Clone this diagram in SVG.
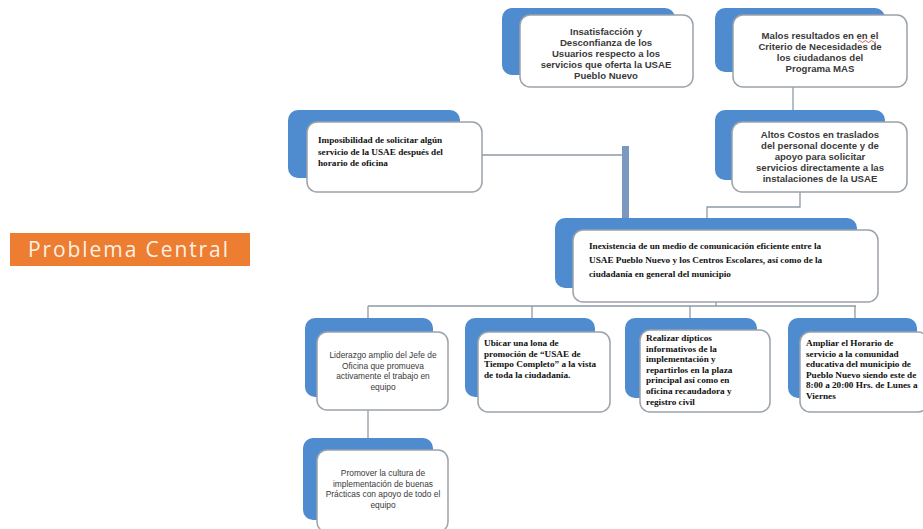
<svg xmlns="http://www.w3.org/2000/svg" width="923" height="529" viewBox="0 0 923 529">
<style>
.back{fill:#4f8bcf;}
.card{fill:#ffffff;stroke:#9aa2aa;stroke-width:1.5;}
.sb{font-family:"Liberation Sans",Arial,sans-serif;font-weight:bold;font-size:9.6px;fill:#3a3a3a;text-anchor:middle;}
.sr{font-family:"Liberation Sans",Arial,sans-serif;font-size:8.4px;fill:#3a3a3a;text-anchor:middle;}
.tb{font-family:"Liberation Serif","Times New Roman",serif;font-weight:bold;font-size:9.2px;fill:#111;}
.ln{fill:none;stroke:#8e9aa6;stroke-width:1.3;}
</style>
<rect width="923" height="529" fill="#ffffff"/>
<g id="connectors">
<path class="ln" d="M793 87 V122"/>
<path class="ln" d="M800 192 V207 H707 V218"/>
<path class="ln" d="M482 155 H623"/>
<rect x="622" y="146" width="7" height="72" fill="#7b98c0"/>
<path class="ln" d="M716 302 V306 M368 306 H856 M368 306 V318 M532 306 V318 M690 306 V318 M855 306 V318"/>
<path class="ln" d="M368 410 V438"/>
</g>
<g id="problema-central">
<rect x="10" y="233" width="240" height="33" fill="#ed7d31"/>
<text x="28" y="257" font-family="'Open Sans','Liberation Sans',sans-serif" font-size="21" fill="#fdf1e2" textLength="200" lengthAdjust="spacing">Problema Central</text>
</g>
<g id="n1">
<rect class="back" x="502" y="8" width="173" height="67" rx="10"/>
<rect class="card" x="520" y="15" width="173" height="72" rx="10"/>
<text class="sb" y="35"><tspan x="606" dy="0">Insatisfacción y</tspan><tspan x="606" dy="11">Desconfianza de los</tspan><tspan x="606" dy="11">Usuarios respecto a los</tspan><tspan x="606" dy="11">servicios que oferta la USAE</tspan><tspan x="606" dy="11">Pueblo Nuevo</tspan></text>
</g>
<g id="n2">
<rect class="back" x="715" y="8" width="170" height="64" rx="10"/>
<rect class="card" x="733" y="15" width="174" height="72" rx="10"/>
<text class="sb" y="39"><tspan x="820" dy="0">Malos resultados en en el</tspan><tspan x="820" dy="11">Criterio de Necesidades de</tspan><tspan x="820" dy="11">los ciudadanos del</tspan><tspan x="820" dy="11">Programa MAS</tspan></text>
<path d="M858 41.5 q1.5 -2 3 0 t3 0 t3 0 t3 0 t3 0 t3 0" fill="none" stroke="#d33" stroke-width="0.8"/>
</g>
<g id="n3">
<rect class="back" x="288" y="110" width="172" height="68" rx="10"/>
<rect class="card" x="307" y="122" width="175" height="70" rx="10"/>
<text class="tb" font-size="9.6" y="143"><tspan x="318" dy="0">Imposibilidad de solicitar algún</tspan><tspan x="318" dy="11.5">servicio de la USAE después del</tspan><tspan x="318" dy="11.5">horario de oficina</tspan></text>
</g>
<g id="n4">
<rect class="back" x="715" y="110" width="170" height="70" rx="10"/>
<rect class="card" x="732" y="122" width="175" height="70" rx="10"/>
<text class="sb" y="138"><tspan x="820" dy="0">Altos Costos en traslados</tspan><tspan x="820" dy="11">del personal docente y de</tspan><tspan x="820" dy="11">apoyo para solicitar</tspan><tspan x="820" dy="11">servicios directamente a las</tspan><tspan x="820" dy="11">instalaciones de la USAE</tspan></text>
</g>
<g id="n5">
<rect class="back" x="555" y="218" width="302" height="70" rx="10"/>
<rect class="card" x="573" y="230" width="305" height="72" rx="10"/>
<text class="tb" font-size="9.6" y="249"><tspan x="589" dy="0">Inexistencia de un medio de comunicación eficiente entre la</tspan><tspan x="589" dy="14">USAE Pueblo Nuevo y los Centros Escolares, así como de la</tspan><tspan x="589" dy="14">ciudadanía en general del municipio</tspan></text>
</g>
<g id="n6">
<rect class="back" x="305" y="318" width="128" height="79" rx="10"/>
<rect class="card" x="317" y="332" width="131" height="78" rx="10"/>
<text class="sr" y="358"><tspan x="383" dy="0">Liderazgo amplio del Jefe de</tspan><tspan x="383" dy="10.5">Oficina que promueva</tspan><tspan x="383" dy="10.5">activamente el trabajo en</tspan><tspan x="383" dy="10.5">equipo</tspan></text>
</g>
<g id="n7">
<rect class="back" x="465" y="318" width="130" height="79" rx="10"/>
<rect class="card" x="478" y="332" width="132" height="80" rx="10"/>
<text class="tb" y="346"><tspan x="484" dy="0">Ubicar una lona de</tspan><tspan x="484" dy="10.6">promoción de  “USAE de</tspan><tspan x="484" dy="10.6">Tiempo Completo” a la vista</tspan><tspan x="484" dy="10.6">de toda la ciudadanía.</tspan></text>
</g>
<g id="n8">
<rect class="back" x="625" y="318" width="132" height="80" rx="10"/>
<rect class="card" x="640" y="330" width="130" height="82" rx="10"/>
<text class="tb" y="341"><tspan x="646" dy="0">Realizar dípticos</tspan><tspan x="646" dy="10.6">informativos de la</tspan><tspan x="646" dy="10.6">implementación y</tspan><tspan x="646" dy="10.6">repartirlos en la plaza</tspan><tspan x="646" dy="10.6">principal así como en</tspan><tspan x="646" dy="10.6">oficina recaudadora y</tspan><tspan x="646" dy="10.6">registro civil</tspan></text>
</g>
<g id="n9">
<rect class="back" x="788" y="318" width="129" height="80" rx="10"/>
<rect class="card" x="800" y="332" width="128" height="80" rx="10"/>
<text class="tb" font-size="8.8" y="346"><tspan x="806" dy="0">Ampliar el Horario de</tspan><tspan x="806" dy="10.6">servicio a la comunidad</tspan><tspan x="806" dy="10.6">educativa del municipio de</tspan><tspan x="806" dy="10.6">Pueblo Nuevo siendo este de</tspan><tspan x="806" dy="10.6">8:00 a 20:00 Hrs. de Lunes a</tspan><tspan x="806" dy="10.6">Viernes</tspan></text>
</g>
<g id="n10">
<rect class="back" x="303" y="438" width="130" height="82" rx="10"/>
<rect class="card" x="317" y="450" width="131" height="82" rx="10"/>
<text class="sr" y="476"><tspan x="383" dy="0">Promover la cultura de</tspan><tspan x="383" dy="10.5">implementación de buenas</tspan><tspan x="383" dy="10.5">Prácticas con apoyo de todo el</tspan><tspan x="383" dy="10.5">equipo</tspan></text>
</g>
</svg>
